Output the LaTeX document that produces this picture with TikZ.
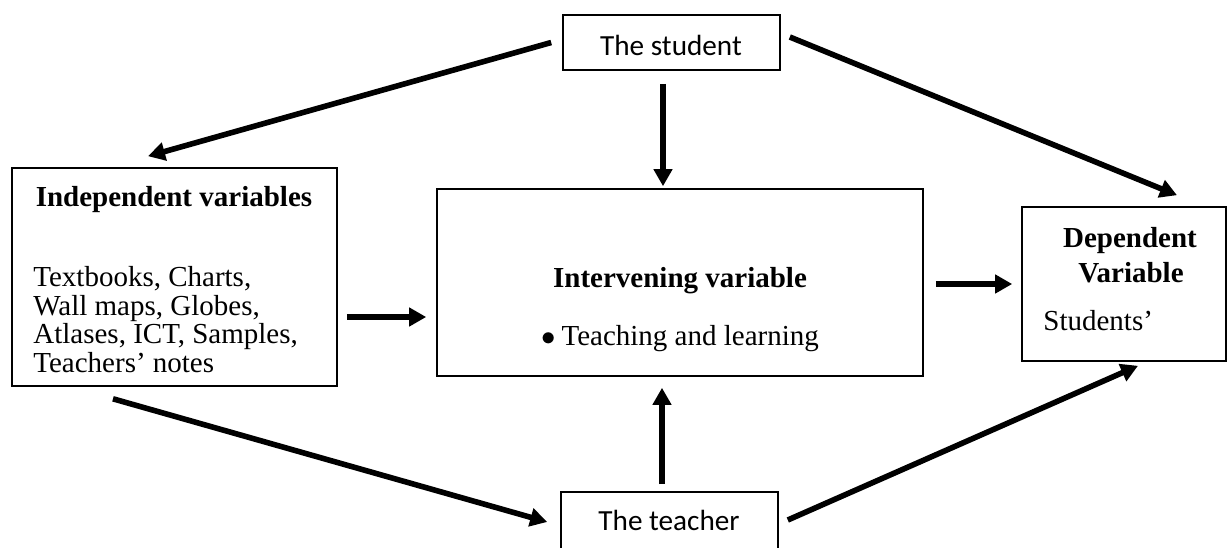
\documentclass[tikz,border=0pt]{standalone}
\usepackage{fontspec}
\setmainfont{Liberation Serif}
\newfontfamily\calibri{Carlito}
\usetikzlibrary{arrows.meta,calc}
\tikzset{
  box/.style={draw,line width=0.8pt,inner sep=0pt},
  txt/.style={inner sep=0pt,font=\fontsize{14.5}{14.2}\selectfont},
  head/.style={inner sep=0pt,font=\fontsize{14.5}{14.2}\selectfont\bfseries},
  sans/.style={inner sep=0pt,font=\fontsize{14.6}{17}\selectfont\calibri},
  flow/.style={line width=2.8pt,-{Triangle[length=8.5pt,width=9pt]}}
}
\begin{document}
\begin{tikzpicture}[x=0.5pt,y=-0.5pt]
  \useasboundingbox (0,0) rectangle (1227,547);
  \clip (0,0) rectangle (1227,547);
  \node[box,minimum width=108.5pt,minimum height=27.5pt] (student) at (671.5,42.5) {};
  \node[box,minimum width=162.5pt,minimum height=109pt] (indep) at (174.5,277) {};
  \node[box,minimum width=243pt,minimum height=93.5pt] (interv) at (680,282.5) {};
  \node[box,minimum width=102pt,minimum height=77pt] (dep) at (1124,284) {};
  \node[box,minimum width=108.5pt,minimum height=30pt] (teacher) at (669.5,522) {};
  \node[sans,anchor=base] (student text) at (671,55) {The student};
  \node[sans,anchor=base] (teacher text) at (669,530) {The teacher};
  \node[head,anchor=base] (indep title) at (174,206) {Independent variables};
  \node[txt,anchor=base west,align=left] (indep body) at (33,372)
    {Textbooks, Charts,\\Wall maps, Globes,\\Atlases, ICT, Samples,\\Teachers’ notes};
  \node[head,anchor=base] (interv title) at (680,287) {Intervening variable};
  \node[txt,anchor=base] (interv item) at (680,345) {$\bullet$\hspace{3pt}Teaching and learning};
  \node[head,anchor=base] (dep title a) at (1130,247) {Dependent};
  \node[head,anchor=base] (dep title b) at (1131,282) {Variable};
  \node[txt,anchor=base west] (dep body) at (1043,330) {Students’};
  \begin{scope}[flow]
    \draw ($(student.west)+(-11,0)$) to ($(indep.north)+(-26.5,-11)$);
    \draw ($(student.south)+(-8.5,13)$) to ($(interv.north)+(-17,-2)$);
    \draw ($(student.east)+(9,-5.5)$) to ($(dep.north)+(53,-11)$);
    \draw ($(indep.east)+(9,40)$) to ($(interv.west)+(-10,34.5)$);
    \draw ($(interv.east)+(12,1.5)$) to ($(dep.west)+(-9,0)$);
    \draw ($(indep.south)+(-61.5,12)$) to ($(teacher.west)+(-13,0)$);
    \draw ($(teacher.north)+(-7.5,-7)$) to ($(interv.south)+(-18,11)$);
    \draw ($(teacher.east)+(9,-2)$) to ($(dep.south)+(14,4)$);
  \end{scope}
\end{tikzpicture}
\end{document}
